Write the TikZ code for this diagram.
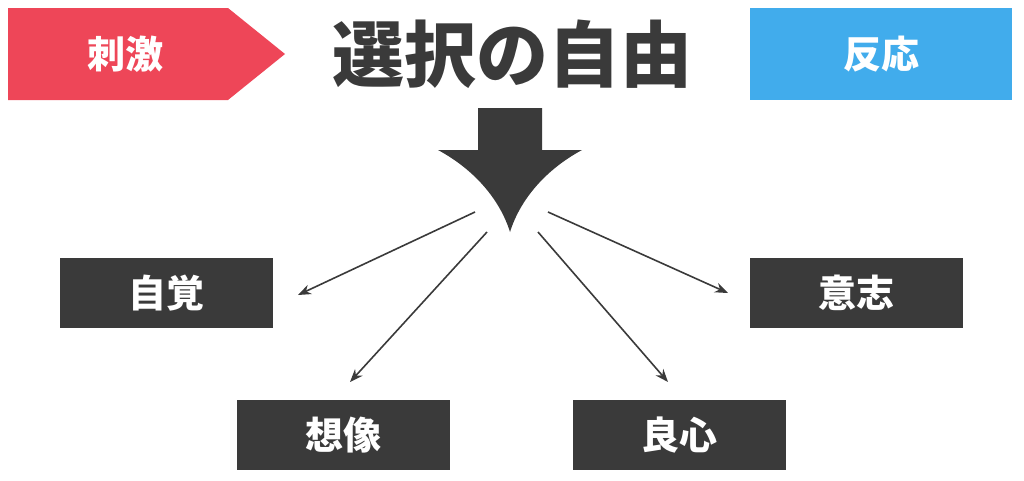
\documentclass[tikz,border=0pt]{standalone}
\usepackage{fontspec}
\newfontfamily\cjk{Noto Sans CJK JP}
\definecolor{dk}{HTML}{3A3A3A}
\definecolor{rd}{HTML}{EE4658}
\definecolor{bl}{HTML}{41ACEC}
\tikzset{
  box/.style={fill=dk,text=white,minimum width=213pt,minimum height=70pt,inner sep=0pt,font=\cjk\bfseries\fontsize{38}{40}\selectfont},
  conn/.style={draw=dk,line width=1.6pt,-{Stealth[length=13pt,width=10pt]}}
}
\usetikzlibrary{arrows.meta}
\begin{document}
\begin{tikzpicture}[x=1pt,y=-1pt]
\useasboundingbox (0,0) rectangle (1024,480);
\fill[rd] (8,8) -- (228,8) -- (285,54) -- (228,100) -- (8,100) -- cycle;
\node[text=white,font=\cjk\bfseries\fontsize{38}{40}\selectfont] (stim) at (125,54) {刺激};
\node[fill=bl,text=white,minimum width=262pt,minimum height=92pt,inner sep=0pt,font=\cjk\bfseries\fontsize{38}{40}\selectfont] (resp) at (881,54) {反応};
\node[text=dk,font=\cjk\bfseries\fontsize{72}{76}\selectfont] (title) at (512,54) {選択の自由};
\fill[dk] (478,108) -- (542,108) -- (542,150) -- (582,150) .. controls (545,170) and (520,200) .. (510,232) .. controls (500,200) and (475,170) .. (438,150) -- (478,150) -- cycle;
\coordinate (c1) at (475,212);
\coordinate (c2) at (487,232);
\coordinate (c3) at (538,232);
\coordinate (c4) at (548,212);
\node[box] (a) at (166.5,293) {自覚};
\node[box] (d) at (856.5,293) {意志};
\node[box] (b) at (343.5,435) {想像};
\node[box] (c) at (679.5,435) {良心};
\draw[conn] (c1) -- (298,295);
\draw[conn] (c2) -- (350,382);
\draw[conn] (c3) -- (668,382);
\draw[conn] (c4) -- (728,293);
\end{tikzpicture}
\end{document}
